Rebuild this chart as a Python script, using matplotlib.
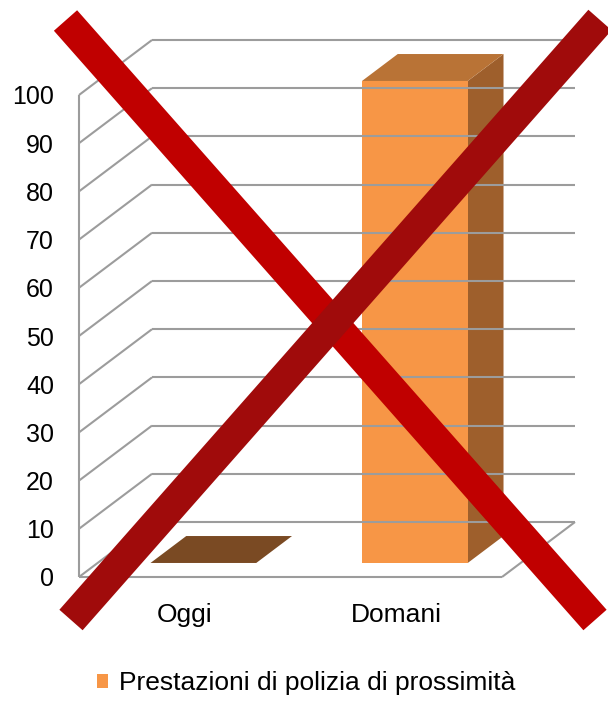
import matplotlib.pyplot as plt
from matplotlib.patches import Polygon, Patch
import numpy as np

plt.rcParams['font.family'] = ['Liberation Sans', 'DejaVu Sans']

# dati
categorie = ['Oggi', 'Domani']
valori = [0, 100]
serie = 'Prestazioni di polizia di prossimità'
tick_y = list(range(0, 101, 10))

# colori
arancio = '#F79646'
arancio_top = '#B97336'
arancio_lato = '#9E5F2C'
top_zero = '#7A4A23'
grigio = '#9C9C9C'

W, H = 608, 702
fig = plt.figure(figsize=(W / 100, H / 100), dpi=100)

# assi "frontali": danno la scala dei valori
ax = fig.add_axes([79 / W, 125 / H, 423 / W, 482 / H])
ax.set_xlim(0, len(categorie))
ax.set_ylim(0, 100)
ax.set_yticks(tick_y)
ax.set_yticklabels([str(t) for t in tick_y], fontsize=18)
ax.set_xticks(np.arange(len(categorie)) + 0.5)
ax.set_xticklabels(categorie, fontsize=19)
ax.tick_params(length=0)
ax.tick_params(axis='y', pad=18)
ax.tick_params(axis='x', pad=19)
for s in ax.spines.values():
    s.set_visible(False)
ax.patch.set_visible(False)

# profondità della vista 3D (pixel)
DX, DY = 73, 55

def proj(x, y, d):
    px, py = ax.transData.transform((x, y))
    return px + DX * d, py + DY * d

# sovrapposizione in pixel
ov = fig.add_axes([0, 0, 1, 1])
ov.set_xlim(0, W)
ov.set_ylim(0, H)
ov.axis('off')
ov.patch.set_visible(False)

def linea(p, q, **kw):
    ov.plot([p[0], q[0]], [p[1], q[1]], color=grigio, lw=1.5, solid_capstyle='butt', **kw)

n = len(categorie)
for v in tick_y:
    linea(proj(0, v, 1), proj(n, v, 1))
    linea(proj(0, v, 0), proj(0, v, 1))
linea(proj(0, 0, 0), proj(0, 100, 0))
linea(proj(0, 0, 0), proj(n, 0, 0))
linea(proj(n, 0, 0), proj(n, 0, 1))

# barre 3D
larg = 0.5
d0, d1 = 0.255, 0.745
for i, v in enumerate(valori):
    x0, x1 = i + 0.5 - larg / 2, i + 0.5 + larg / 2
    if v > 0:
        fronte = [proj(x0, 0, d0), proj(x1, 0, d0), proj(x1, v, d0), proj(x0, v, d0)]
        lato = [proj(x1, 0, d0), proj(x1, 0, d1), proj(x1, v, d1), proj(x1, v, d0)]
        ov.add_patch(Polygon(lato, closed=True, fc=arancio_lato, ec='none'))
        ov.add_patch(Polygon(fronte, closed=True, fc=arancio, ec='none'))
        col_top = arancio_top
    else:
        col_top = top_zero
    top = [proj(x0, v, d0), proj(x1, v, d0), proj(x1, v, d1), proj(x0, v, d1)]
    ov.add_patch(Polygon(top, closed=True, fc=col_top, ec='none'))

# grande X rossa
ov.plot([65.5, 595], [H - 20.5, H - 620], color='#C00000', lw=22.3, solid_capstyle='butt')
ov.plot([71, 600], [H - 620, H - 20], color='#A00B0B', lw=22.3, solid_capstyle='butt')

fig.legend(handles=[Patch(fc=arancio, ec='none', label=serie)], loc='center',
           bbox_to_anchor=(306 / W, 19 / H), frameon=False, fontsize=19,
           handlelength=0.45, handleheight=0.45, handletextpad=0.4)

fig.savefig('out.png', dpi=100)
